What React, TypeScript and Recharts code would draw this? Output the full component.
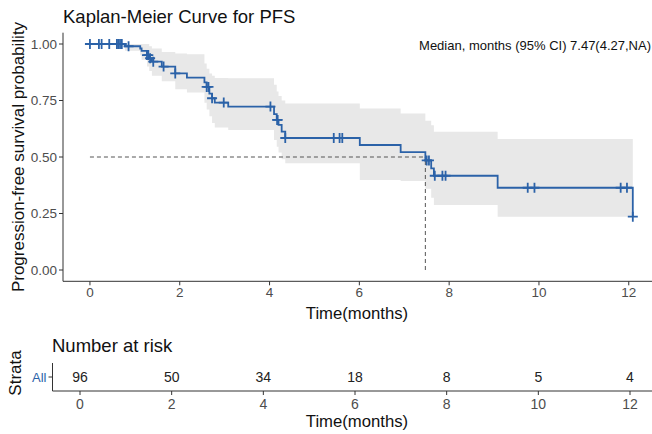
import { ComposedChart, Line, Area, Scatter, XAxis, YAxis, ReferenceLine } from "recharts"

// KM step points (time in months, survival after step, 95% CI)
const kmTime = [0, 0.78, 1.12, 1.15, 1.27, 1.32, 1.38, 1.6, 1.9, 2.16, 2.55, 2.6, 2.66, 2.72, 2.78, 3.08, 4.1, 4.16, 4.2, 4.27, 4.35, 6.01, 6.92, 7.47, 7.6, 7.66, 9.08, 12.09]
const kmSurv = [1, 0.99, 0.98, 0.97, 0.951, 0.937, 0.922, 0.9, 0.87, 0.851, 0.83, 0.81, 0.78, 0.76, 0.741, 0.723, 0.69, 0.664, 0.642, 0.612, 0.584, 0.553, 0.522, 0.485, 0.45, 0.417, 0.364, 0.236]
const kmLower = [1, 0.97, 0.95, 0.93, 0.9, 0.88, 0.86, 0.835, 0.8, 0.785, 0.74, 0.71, 0.68, 0.65, 0.63, 0.62, 0.575, 0.545, 0.52, 0.49, 0.472, 0.398, 0.394, 0.36, 0.32, 0.288, 0.236, 0.236]
const kmUpper = [1, 1, 1, 1, 1, 0.99, 0.98, 0.965, 0.958, 0.955, 0.914, 0.89, 0.87, 0.86, 0.85, 0.848, 0.82, 0.79, 0.77, 0.75, 0.737, 0.715, 0.693, 0.66, 0.64, 0.612, 0.58, 0.58]

// censored observations
const censorTime = [0, 0.2, 0.26, 0.43, 0.6, 0.63, 0.67, 0.71, 0.86, 1.27, 1.3, 1.34, 1.41, 1.64, 1.9, 2.6, 2.64, 2.72, 2.98, 4.02, 4.17, 4.18, 4.35, 5.43, 5.56, 5.62, 7.5, 7.55, 7.68, 7.85, 7.92, 9.75, 9.9, 11.82, 11.96, 12.09]

const medianTime = 7.47
const xTicks = [0, 2, 4, 6, 8, 10, 12]
const yTicks = [0, 0.25, 0.5, 0.75, 1]

const riskTimes = [0, 2, 4, 6, 8, 10, 12]
const riskCounts = [96, 50, 34, 18, 8, 5, 4]

const BLUE = "#2b62a8"
const FONT = "'Liberation Sans', Arial, sans-serif"
const TICK = { fill: "#4d4d4d", fontSize: 13.5, fontFamily: FONT }

function survAt(t: number) {
  let s = kmSurv[0]
  for (let i = 0; i < kmTime.length; i++) if (kmTime[i] <= t) s = kmSurv[i]
  return s
}

const kmData = kmTime.map((t, i) => ({ t, s: kmSurv[i], ci: [kmLower[i], kmUpper[i]] }))
const censorData = censorTime.map((t) => ({ t, s: survAt(t) }))
const riskData = riskTimes.map((t, i) => ({ t, y: 1, n: riskCounts[i] }))

const Cross = (props: any) => {
  const { cx, cy } = props
  return (
    <g stroke={BLUE} strokeWidth={1.8}>
      <line x1={cx - 5} x2={cx + 5} y1={cy} y2={cy} />
      <line x1={cx} x2={cx} y1={cy - 5} y2={cy + 5} />
    </g>
  )
}

const RiskText = (props: any) => {
  const { cx, cy, payload } = props
  return (
    <text x={cx} y={cy} textAnchor="middle" dominantBaseline="central" fontSize={14} fontFamily={FONT} fill="#222">
      {payload.n}
    </text>
  )
}

export default function App() {
  return (
    <div style={{ position: "absolute", left: 0, top: 0, width: 652, height: 434, overflow: "hidden", background: "#fff" }}>
      <div style={{ position: "absolute", left: 0, top: 0 }}>
        <ComposedChart width={660} height={300} data={kmData} margin={{ top: 32.7, right: 4.3, bottom: 0, left: 0 }}>
          <XAxis dataKey="t" type="number" domain={[-0.6, 12.6]} ticks={xTicks} interval={0} allowDataOverflow
            stroke="#333" tickSize={4} tick={TICK} height={18.7} />
          <YAxis type="number" domain={[-0.05, 1.05]} ticks={yTicks} interval={0} allowDataOverflow
            tickFormatter={(v: number) => v.toFixed(2)} stroke="#333" tickSize={4} tickMargin={2} tick={TICK} width={63} />
          <Area dataKey="ci" type="stepAfter" fill="#e8e8e8" fillOpacity={1} stroke="none" isAnimationActive={false} />
          <ReferenceLine segment={[{ x: 0, y: 0.5 }, { x: medianTime, y: 0.5 }]} stroke="#555" strokeDasharray="4 3" />
          <ReferenceLine segment={[{ x: medianTime, y: 0 }, { x: medianTime, y: 0.5 }]} stroke="#555" strokeDasharray="4 3" />
          <Line dataKey="s" type="stepAfter" stroke={BLUE} strokeWidth={1.8} dot={false} isAnimationActive={false} />
          <Scatter data={censorData} dataKey="s" shape={Cross} isAnimationActive={false} />
        </ComposedChart>
      </div>
      <div style={{ position: "absolute", left: 0, top: 340 }}>
        <ComposedChart width={660} height={100} data={riskData} margin={{ top: 23, right: 2.5, bottom: 27, left: 0 }}>
          <XAxis dataKey="t" type="number" domain={[-0.6, 12.6]} ticks={xTicks} interval={0} allowDataOverflow
            stroke="#333" tickSize={4} tickMargin={4} tick={{ ...TICK, fontSize: 14 }} height={22} />
          <YAxis type="number" domain={[0, 2]} ticks={[1]} tickFormatter={() => "All"} stroke="#333" tickSize={4} tickMargin={2}
            tick={{ ...TICK, fill: BLUE, fontSize: 13 }} width={52.5} />
          <Scatter dataKey="y" shape={RiskText} isAnimationActive={false} />
        </ComposedChart>
      </div>
      <svg width={652} height={434} style={{ position: "absolute", left: 0, top: 0, pointerEvents: "none" }} fontFamily={FONT}>
        <text x={63} y={16} fontSize={18.5} dominantBaseline="central" fill="#111">Kaplan-Meier Curve for PFS</text>
        <text x={651} y={45} fontSize={13} dominantBaseline="central" textAnchor="end" fill="#111">Median, months (95% CI) 7.47(4.27,NA)</text>
        <text transform="translate(18,157) rotate(-90)" fontSize={17} dominantBaseline="central" textAnchor="middle" fill="#111">Progression-free survival probability</text>
        <text x={357} y={313} fontSize={16.7} dominantBaseline="central" textAnchor="middle" fill="#111">Time(months)</text>
        <text x={52} y={345} fontSize={18.5} dominantBaseline="central" fill="#111">Number at risk</text>
        <text transform="translate(15,373) rotate(-90)" fontSize={17} dominantBaseline="central" textAnchor="middle" fill="#111">Strata</text>
        <text x={357} y={421} fontSize={16.7} dominantBaseline="central" textAnchor="middle" fill="#111">Time(months)</text>
      </svg>
    </div>
  )
}
